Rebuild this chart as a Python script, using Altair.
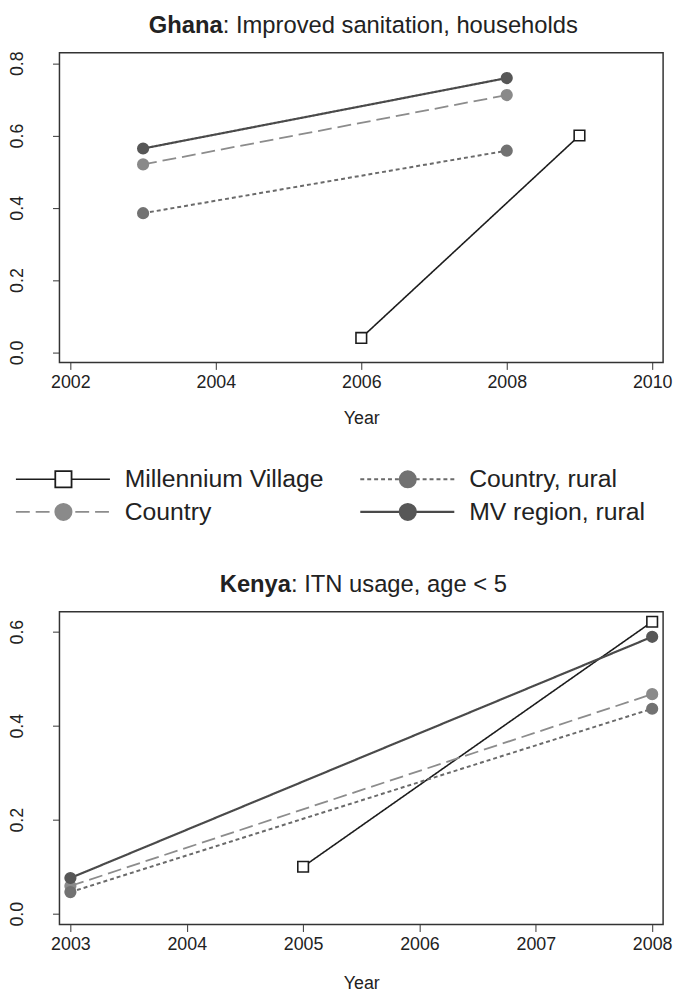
import altair as alt
import pandas as pd

# ---- data -------------------------------------------------------------
series_names = ["Millennium Village", "Country", "Country, rural", "MV region, rural"]

# Ghana: Improved sanitation, households
gh_mv_years = [2006, 2009]
gh_mv_vals = [0.04, 0.60]
gh_country_years = [2003, 2008]
gh_country_vals = [0.52, 0.712]
gh_rural_years = [2003, 2008]
gh_rural_vals = [0.385, 0.558]
gh_mvr_years = [2003, 2008]
gh_mvr_vals = [0.564, 0.759]

# Kenya: ITN usage, age < 5
ke_mv_years = [2005, 2008]
ke_mv_vals = [0.10, 0.621]
ke_country_years = [2003, 2008]
ke_country_vals = [0.059, 0.467]
ke_rural_years = [2003, 2008]
ke_rural_vals = [0.046, 0.436]
ke_mvr_years = [2003, 2008]
ke_mvr_vals = [0.076, 0.589]

gh_xticks = [2002, 2004, 2006, 2008, 2010]
gh_yticks = [0.0, 0.2, 0.4, 0.6, 0.8]
ke_xticks = [2003, 2004, 2005, 2006, 2007, 2008]
ke_yticks = [0.0, 0.2, 0.4, 0.6]

FONT = "Liberation Sans"

# ---- styles -----------------------------------------------------------
line_colors = ["#1c1c1c", "#8c8c8c", "#6a6a6a", "#4a4a4a"]
pt_stroke = ["#1c1c1c", "#8a8a8a", "#727272", "#575757"]
pt_fill = ["#ffffff", "#8a8a8a", "#727272", "#575757"]
dashes = [[1, 0], [14, 6], [4, 3], [1, 0]]
shapes = ["square", "circle", "circle", "circle"]
widths = [1.6, 2.2, 2.0, 2.0]


def frame(pairs):
    rows = []
    for name, (yrs, vals) in zip(series_names, pairs):
        for y, v in zip(yrs, vals):
            rows.append({"series": name, "year": y, "value": v})
    return pd.DataFrame(rows)


gh_df = frame([(gh_mv_years, gh_mv_vals), (gh_country_years, gh_country_vals),
               (gh_rural_years, gh_rural_vals), (gh_mvr_years, gh_mvr_vals)])
ke_df = frame([(ke_mv_years, ke_mv_vals), (ke_country_years, ke_country_vals),
               (ke_rural_years, ke_rural_vals), (ke_mvr_years, ke_mvr_vals)])

col_line = alt.Color("series:N", scale=alt.Scale(domain=series_names, range=line_colors), legend=None)
dash_enc = alt.StrokeDash("series:N", scale=alt.Scale(domain=series_names, range=dashes), legend=None)
width_enc = alt.StrokeWidth("series:N", scale=alt.Scale(domain=series_names, range=widths), legend=None)
shape_enc = alt.Shape("series:N", scale=alt.Scale(domain=series_names, range=shapes), legend=None)
fill_enc = alt.Fill("series:N", scale=alt.Scale(domain=series_names, range=pt_fill), legend=None)
stroke_enc = alt.Stroke("series:N", scale=alt.Scale(domain=series_names, range=pt_stroke), legend=None)


def panel(df, xdom, ydom, xticks, yticks, bold, rest, split, h, tpad):
    x = alt.X("year:Q", scale=alt.Scale(domain=xdom, nice=False, zero=False),
              axis=alt.Axis(values=xticks, format="d", title="Year", labelFlush=False,
                            labelPadding=4, titlePadding=tpad))
    y = alt.Y("value:Q", scale=alt.Scale(domain=ydom, nice=False, zero=False),
              axis=alt.Axis(values=yticks, format=".1f", title=None, labelAngle=270,
                            labelAlign="center", labelBaseline="bottom", labelPadding=26,
                            labelFlush=False))
    base = alt.Chart(df)
    lines = base.mark_line().encode(x=x, y=y, detail="series:N", color=col_line,
                                    strokeDash=dash_enc, strokeWidth=width_enc)
    pts = base.mark_point(opacity=1, strokeWidth=1.6, size=115).encode(
        x=x, y=y, shape=shape_enc, fill=fill_enc, stroke=stroke_enc)
    t1 = alt.Chart(pd.DataFrame({"t": [bold]})).mark_text(
        font=FONT, fontSize=24, fontWeight="bold", align="right", baseline="alphabetic",
        color="#222222").encode(text="t:N", x=alt.value(split), y=alt.value(-20))
    t2 = alt.Chart(pd.DataFrame({"t": [rest]})).mark_text(
        font=FONT, fontSize=24, align="left", baseline="alphabetic",
        color="#222222").encode(text="t:N", x=alt.value(split), y=alt.value(-20))
    return alt.layer(lines, pts, t1, t2).properties(width=610, height=h)


top = panel(gh_df, [2001.85, 2010.15], [-0.028, 0.829], gh_xticks, gh_yticks,
            "Ghana", ": Improved sanitation, households", 165, 313, 19)
bottom = panel(ke_df, [2002.906, 2008.094], [-0.023, 0.642], ke_xticks, ke_yticks,
               "Kenya", ": ITN usage, age < 5", 234, 316, 22)

# ---- legend -----------------------------------------------------------
leg_df = pd.DataFrame({
    "series": series_names,
    "col": [0, 0, 1, 1],
    "row": [0, 1, 0, 1],
})
lx = alt.X("col:Q", scale=alt.Scale(domain=[0, 1], range=[4, 352]), axis=None)
ly = alt.Y("row:Q", scale=alt.Scale(domain=[0, 1], range=[50, 83]), axis=None)
lbase = alt.Chart(leg_df)
leg_lines = lbase.mark_rule(xOffset=-48, x2Offset=47).encode(
    x=lx, x2="col:Q", y=ly, color=col_line, strokeDash=dash_enc, strokeWidth=width_enc)
leg_pts = lbase.mark_point(opacity=1, strokeWidth=1.8, size=270).encode(
    x=lx, y=ly, shape=shape_enc, fill=fill_enc, stroke=stroke_enc)
leg_txt = lbase.mark_text(font=FONT, fontSize=25, align="left", baseline="middle", dx=62,
                          color="#222222").encode(x=lx, y=ly, text="series:N")
legend = alt.layer(leg_lines, leg_pts, leg_txt).properties(
    width=610, height=143, view=alt.ViewBackground(stroke="transparent"))

chart = alt.vconcat(top, legend, bottom, spacing=0).properties(
    padding={"left": 0, "top": 0, "right": 0, "bottom": 0},
    background="white",
).configure_view(stroke="#333333", strokeWidth=1.5).configure_axis(
    domain=False, grid=False, tickSize=7, tickColor="#333333", tickWidth=1,
    labelFont=FONT, labelFontSize=18, labelColor="#222222",
    titleFont=FONT, titleFontSize=18, titleColor="#222222", titleFontWeight="normal"
)

chart.save("out.html", embed_options={"renderer": "svg", "actions": False})
